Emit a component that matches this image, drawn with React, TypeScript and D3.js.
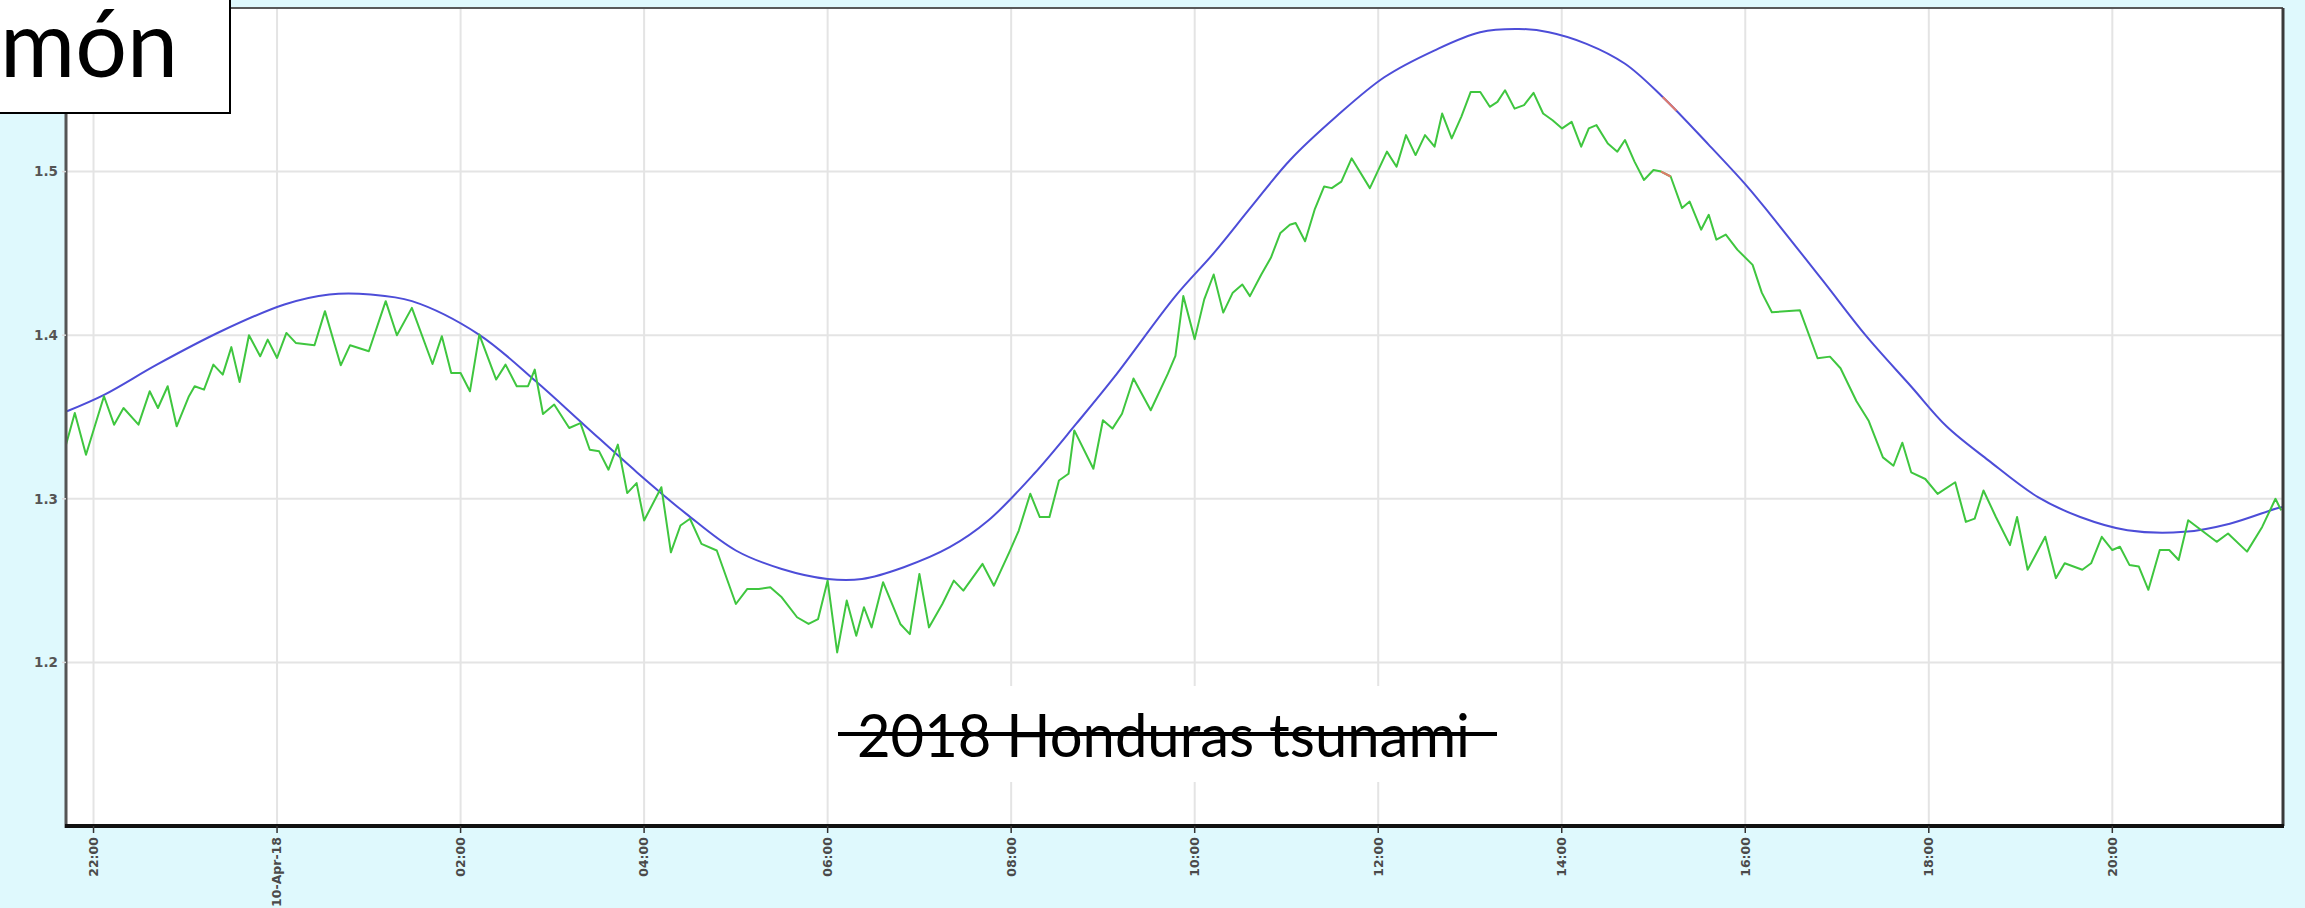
import React from "react";
import * as d3 from "d3";

// ---- data (hours counted from 09-Apr-2018 00:00) ----
const predictedHours = [21.71, 22.12, 22.69, 23.39, 24.08, 24.57, 25.02, 25.47, 26.2, 26.82, 27.35, 27.92, 28.46, 29.0, 29.5, 30.0, 30.375, 30.83, 31.33, 31.75, 32.25, 32.71, 33.125, 33.79, 34.21, 34.62, 35.04, 35.54, 36.07, 36.61, 37.11, 37.53, 37.86, 38.27, 38.69, 39.1, 39.6, 40.02, 40.27, 40.85, 41.31, 41.81, 42.19, 42.65, 43.19, 43.65, 44.165, 44.785, 45.28, 45.778, 45.86];
const predictedLevels = [1.3535, 1.3637, 1.382, 1.4024, 1.4188, 1.4249, 1.4249, 1.4208, 1.4004, 1.3718, 1.345, 1.3163, 1.2908, 1.2684, 1.2571, 1.251, 1.251, 1.2582, 1.2704, 1.2867, 1.3153, 1.3459, 1.3745, 1.4239, 1.4503, 1.4787, 1.5071, 1.5335, 1.5578, 1.574, 1.5852, 1.5872, 1.5852, 1.5781, 1.5659, 1.5456, 1.5165, 1.491, 1.474, 1.433, 1.4, 1.3685, 1.3445, 1.3235, 1.301, 1.2889, 1.2808, 1.2798, 1.2848, 1.2939, 1.295];

const observedHours = [21.7, 21.796, 21.918, 22.114, 22.224, 22.327, 22.49, 22.612, 22.702, 22.808, 22.906, 23.04, 23.102, 23.204, 23.306, 23.408, 23.502, 23.592, 23.694, 23.816, 23.898, 24.0, 24.102, 24.204, 24.408, 24.522, 24.694, 24.796, 25.0, 25.184, 25.306, 25.469, 25.694, 25.796, 25.898, 26.0, 26.102, 26.204, 26.388, 26.49, 26.612, 26.735, 26.808, 26.898, 27.02, 27.184, 27.306, 27.408, 27.51, 27.612, 27.714, 27.816, 27.918, 28.0, 28.188, 28.292, 28.396, 28.5, 28.625, 28.792, 29.0, 29.125, 29.25, 29.375, 29.5, 29.667, 29.792, 29.896, 30.0, 30.104, 30.208, 30.312, 30.396, 30.479, 30.604, 30.792, 30.896, 31.0, 31.104, 31.25, 31.375, 31.479, 31.688, 31.812, 31.979, 32.083, 32.208, 32.312, 32.417, 32.521, 32.625, 32.688, 32.896, 33.0, 33.104, 33.208, 33.333, 33.521, 33.708, 33.79, 33.876, 34.0, 34.104, 34.207, 34.311, 34.415, 34.519, 34.602, 34.726, 34.83, 34.934, 35.037, 35.1, 35.203, 35.307, 35.411, 35.494, 35.598, 35.71, 35.909, 36.095, 36.2, 36.303, 36.407, 36.51, 36.614, 36.697, 36.801, 36.905, 37.008, 37.112, 37.216, 37.299, 37.382, 37.486, 37.589, 37.693, 37.797, 37.9, 38.004, 38.108, 38.212, 38.295, 38.378, 38.502, 38.606, 38.689, 38.793, 38.896, 39.0, 39.083, 39.187, 39.311, 39.394, 39.519, 39.602, 39.685, 39.788, 39.913, 40.08, 40.18, 40.29, 40.596, 40.788, 40.923, 41.038, 41.212, 41.346, 41.5, 41.615, 41.712, 41.808, 41.962, 42.096, 42.288, 42.404, 42.5, 42.596, 42.731, 42.885, 42.962, 43.077, 43.269, 43.385, 43.481, 43.673, 43.769, 43.885, 44.0, 44.083, 44.186, 44.289, 44.393, 44.517, 44.62, 44.723, 44.827, 44.971, 45.137, 45.261, 45.468, 45.633, 45.778, 45.84];
const observedLevels = [1.3331, 1.3524, 1.3269, 1.3627, 1.3453, 1.3555, 1.3453, 1.3657, 1.3555, 1.3688, 1.3443, 1.3627, 1.3688, 1.3667, 1.382, 1.3759, 1.3927, 1.3714, 1.4, 1.3871, 1.3973, 1.3861, 1.4014, 1.3953, 1.3939, 1.4147, 1.3816, 1.3939, 1.3902, 1.4208, 1.4, 1.4167, 1.3824, 1.3994, 1.3769, 1.3769, 1.3657, 1.4004, 1.3729, 1.382, 1.3688, 1.3688, 1.379, 1.3518, 1.3576, 1.3433, 1.3463, 1.33, 1.329, 1.3178, 1.3331, 1.3035, 1.3096, 1.2867, 1.3071, 1.2673, 1.2837, 1.2878, 1.2724, 1.2684, 1.2357, 1.2449, 1.2449, 1.2459, 1.2398, 1.2276, 1.2235, 1.2265, 1.25, 1.2061, 1.2378, 1.2163, 1.2337, 1.2214, 1.249, 1.2235, 1.2173, 1.2541, 1.2214, 1.2357, 1.25, 1.2439, 1.2602, 1.2469, 1.2673, 1.2806, 1.3031, 1.2888, 1.2888, 1.3112, 1.3153, 1.3418, 1.3184, 1.348, 1.3429, 1.352, 1.3735, 1.3541, 1.3765, 1.3874, 1.4239, 1.3976, 1.4219, 1.4371, 1.4138, 1.426, 1.431, 1.4239, 1.4371, 1.4473, 1.4625, 1.4675, 1.4686, 1.4574, 1.4767, 1.4909, 1.4899, 1.4939, 1.5081, 1.4899, 1.5122, 1.503, 1.5223, 1.5101, 1.5223, 1.5152, 1.5355, 1.5203, 1.5335, 1.5487, 1.5487, 1.5396, 1.5426, 1.5497, 1.5385, 1.5406, 1.5481, 1.5355, 1.5314, 1.5264, 1.5304, 1.5152, 1.5264, 1.5284, 1.5172, 1.5122, 1.5193, 1.5061, 1.4949, 1.501, 1.5, 1.497, 1.4777, 1.4817, 1.4645, 1.4736, 1.4584, 1.4615, 1.4523, 1.443, 1.426, 1.414, 1.4152, 1.3859, 1.3869, 1.3798, 1.3596, 1.3475, 1.3253, 1.3202, 1.3343, 1.3162, 1.3121, 1.303, 1.3101, 1.2859, 1.2879, 1.3051, 1.2889, 1.2717, 1.2889, 1.2566, 1.2768, 1.2515, 1.2606, 1.2566, 1.2606, 1.2768, 1.2687, 1.2707, 1.2596, 1.2586, 1.2444, 1.2687, 1.2687, 1.2626, 1.2869, 1.2808, 1.2737, 1.2788, 1.2677, 1.2828, 1.3, 1.2929];

// short flagged (red) pieces
const flaggedPredictedHours = [39.1, 39.25];
const flaggedPredictedLevels = [1.5456, 1.5372];
const flaggedObservedHours = [39.083, 39.187];
const flaggedObservedLevels = [1.5, 1.497];

const xTickHours = [22, 24, 26, 28, 30, 32, 34, 36, 38, 40, 42, 44];
const xTickLabels = ["22:00", "10-Apr-18", "02:00", "04:00", "06:00", "08:00", "10:00", "12:00", "14:00", "16:00", "18:00", "20:00"];
const yTicks = [1.2, 1.3, 1.4, 1.5];
const yTickLabels = ["1.2", "1.3", "1.4", "1.5"];
const domainHours = [21.7, 45.86];
const domainLevels = [1.1, 1.6];

const titleText = "món";
const noteText = "2018 Honduras tsunami";

const BASE = new Date(2018, 3, 9, 0, 0, 0).getTime();
const toDate = (h: number) => new Date(BASE + h * 3600000);

const W = 2305;
const H = 908;
const L = 66, R = 2283, T = 8, B = 826;

export default function App() {
  const x = d3.scaleTime().domain([toDate(domainHours[0]), toDate(domainHours[1])]).range([L, R]);
  const y = d3.scaleLinear().domain(domainLevels).range([B, T]);

  const line = d3
    .line<[number, number]>()
    .x((d) => x(toDate(d[0])))
    .y((d) => y(d[1]));
  const smooth = d3
    .line<[number, number]>()
    .x((d) => x(toDate(d[0])))
    .y((d) => y(d[1]))
    .curve(d3.curveCatmullRom.alpha(0.5));

  const pred: [number, number][] = predictedHours.map((h, i) => [h, predictedLevels[i]]);
  const obs: [number, number][] = observedHours.map((h, i) => [h, observedLevels[i]]);
  const predRed: [number, number][] = flaggedPredictedHours.map((h, i) => [h, flaggedPredictedLevels[i]]);
  const obsRed: [number, number][] = flaggedObservedHours.map((h, i) => [h, flaggedObservedLevels[i]]);

  return (
    <svg width={W} height={H} style={{ position: "absolute", left: 0, top: 0, display: "block" }}>
      <defs>
        <clipPath id="plot">
          <rect x={L} y={T} width={R - L} height={B - T} />
        </clipPath>
      </defs>
      <rect x={0} y={0} width={W} height={H} fill="#dff9fd" />
      <rect x={L} y={T} width={R - L} height={B - T} fill="#ffffff" />
      {/* grid */}
      {xTickHours.map((h) => (
        <line key={"gx" + h} x1={x(toDate(h))} x2={x(toDate(h))} y1={T} y2={B} stroke="#e4e4e4" strokeWidth={2} />
      ))}
      {yTicks.map((v) => (
        <line key={"gy" + v} x1={L} x2={R} y1={y(v)} y2={y(v)} stroke="#e4e4e4" strokeWidth={2} />
      ))}
      {/* series */}
      <g clipPath="url(#plot)" fill="none" strokeLinejoin="round">
        <path d={smooth(pred) || ""} stroke="#4d4dd8" strokeWidth={2} />
        <path d={line(obs) || ""} stroke="#3fc63f" strokeWidth={2} />
        <path d={line(predRed) || ""} stroke="#e07a6a" strokeWidth={2} />
        <path d={line(obsRed) || ""} stroke="#e07a6a" strokeWidth={2} />
      </g>
      {/* frame */}
      <line x1={L} x2={R} y1={T} y2={T} stroke="#5a5a5a" strokeWidth={2} />
      <line x1={R} x2={R} y1={T} y2={B} stroke="#3a3a3a" strokeWidth={3} />
      <line x1={L} x2={L} y1={T} y2={B + 2} stroke="#555" strokeWidth={3} />
      <line x1={L - 1} x2={R + 1} y1={B} y2={B} stroke="#111" strokeWidth={4} />
      {/* x ticks and labels */}
      {xTickHours.map((h, i) => {
        const px = x(toDate(h));
        return (
          <g key={"xt" + h}>
            <line x1={px} x2={px} y1={B} y2={B + 7} stroke="#333" strokeWidth={1.5} />
            <text
              transform={`translate(${px},${B + 11}) rotate(-90)`}
              textAnchor="end"
              dy="0.35em"
              fontFamily="DejaVu Sans, Verdana, sans-serif"
              fontWeight="bold"
              fontSize={12.5}
              fill="#4a4a4a"
            >
              {xTickLabels[i]}
            </text>
          </g>
        );
      })}
      {/* y ticks and labels */}
      {yTicks.map((v, i) => (
        <g key={"yt" + v}>
          <line x1={L - 4} x2={L} y1={y(v)} y2={y(v)} stroke="#ddd" strokeWidth={1.5} />
          <text
            x={L - 8}
            y={y(v)}
            dy="0.35em"
            textAnchor="end"
            fontFamily="DejaVu Sans, Verdana, sans-serif"
            fontWeight="bold"
            fontSize={13.5}
            fill="#555"
          >
            {yTickLabels[i]}
          </text>
        </g>
      ))}
      {/* strikethrough annotation */}
      <rect x={836} y={686} width={664} height={96} fill="#ffffff" />
      <text x={857} y={757} fontFamily="Lato, 'Open Sans', sans-serif" fontSize={60} fill="#000" textLength={613} lengthAdjust="spacingAndGlyphs">
        {noteText}
      </text>
      <line x1={838} x2={1497} y1={734} y2={734} stroke="#000" strokeWidth={4} />
      {/* title box */}
      <rect x={-2} y={-2} width={232} height={115} fill="#ffffff" stroke="#000" strokeWidth={2} />
      <text x={0} y={77} fontFamily="Lato, 'Open Sans', sans-serif" fontSize={94} fill="#000" textLength={178} lengthAdjust="spacingAndGlyphs">
        {titleText}
      </text>
    </svg>
  );
}
